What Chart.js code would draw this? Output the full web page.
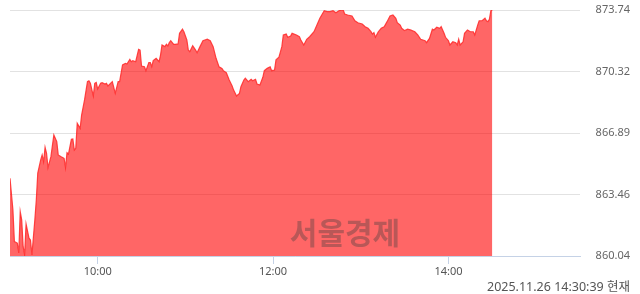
<!DOCTYPE html>
<html lang="ko">
<head>
<meta charset="utf-8">
<title>Index chart</title>
<script src="https://cdn.jsdelivr.net/npm/chart.js@4/dist/chart.umd.min.js"></script>
<style>
  html, body { margin: 0; padding: 0; background: #fff; }
  #chart { display: block; }
</style>
</head>
<body>
<canvas id="chart" width="640" height="294"></canvas>
<script>
// minutes since 09:00 open
const minutes = [0,2,3,5,6,7,8,9,10,11,13,14,15,17,18,19,21,22,23,24,25,26,28,30,32,33,35,37,38,39,
  40,42,43,44,45,46,48,49,51,53,54,55,57,58,59,60,62,63,65,66,67,70,71,72,74,75,77,79,80,82,
  83,84,86,88,89,90,92,93,95,96,97,98,100,102,103,104,106,107,108,109,110,112,113,115,116,118,119,121,122,123,
  125,127,128,130,132,135,137,139,141,143,145,146,148,150,152,153,155,157,158,160,161,163,165,166,168,169,171,173,174,176,
  178,179,181,182,184,186,187,189,190,192,193,196,198,199,201,203,205,208,210,212,215,217,219,221,223,225,228,229,231,234,
  236,238,241,243,245,247,248,249,250,252,254,256,258,260,262,264,265,267,268,270,272,274,277,279,281,284,285,287,289,290,
  292,294,295,297,298,300,301,303,305,306,307,308,310,311,313,315,317,318,320,321,323,325,326,327,328,329,330];

const values = [864.37,862.60,860.84,860.76,860.21,862.51,862.05,860.56,860.10,861.82,861.04,860.93,860.10,862.05,863.16,864.66,865.39,865.67,865.29,866.09,865.76,864.96,865.57,866.78,866.41,865.67,865.57,865.48,864.96,865.79,
  865.72,866.54,866.56,865.94,866.04,867.43,867.15,867.89,868.73,869.75,869.80,869.66,868.95,869.66,869.71,869.34,869.66,869.69,869.62,869.66,869.51,869.75,869.43,869.10,869.75,869.75,870.68,870.77,870.73,870.99,
  870.86,870.92,870.86,871.55,871.51,870.62,870.58,870.36,870.81,870.81,870.58,870.92,871.05,870.86,871.23,871.79,871.70,871.83,871.74,871.92,872.03,871.83,871.83,871.85,872.44,872.67,872.53,872.07,871.51,871.42,
  871.75,871.51,871.36,871.70,872.03,872.11,872.03,871.70,871.05,870.58,870.49,870.36,870.25,869.84,869.51,869.28,868.95,869.10,869.47,869.84,869.94,869.75,869.88,869.80,869.88,869.62,869.56,869.99,870.36,870.49,
  870.58,870.36,870.40,870.96,871.11,871.70,872.35,872.40,872.22,872.29,872.44,872.35,872.25,872.07,871.79,872.11,872.25,872.53,872.90,873.28,873.70,873.65,873.65,873.70,873.59,873.70,873.74,873.52,873.46,873.41,
  873.14,873.03,872.96,872.81,872.72,872.53,872.40,872.48,872.22,872.53,872.72,872.81,873.09,873.41,873.46,873.28,873.03,872.90,872.72,872.59,872.67,872.63,872.53,872.35,872.11,872.03,871.92,872.16,872.67,872.63,
  872.78,872.72,872.81,872.44,872.22,872.03,871.79,871.97,871.92,871.79,872.11,871.79,871.97,872.44,872.63,872.53,872.53,872.35,872.90,873.14,873.14,873.28,873.14,873.09,873.22,873.70,873.74];

const yTicks      = [860.04, 863.46, 866.89, 870.32, 873.74];
const yTickLabels = ['860.04', '863.46', '866.89', '870.32', '873.74'];
const xTicks      = [60, 180, 300];          // 10:00, 12:00, 14:00
const xTickLabels = ['10:00', '12:00', '14:00'];
const sessionEnd  = 390;                     // 15:30

const watermark = '서울경제';
const stamp     = '2025.11.26 14:30:39 현재';

const FONT = '"Noto Sans", "Noto Sans CJK KR", sans-serif';

// watermark + timestamp are drawn straight on the canvas after the chart
const overlayPlugin = {
  id: 'overlay',
  afterDatasetsDraw(chart) {
    const ctx = chart.ctx;
    ctx.save();
    ctx.font = 'bold 30px "Noto Sans CJK KR", sans-serif';
    ctx.fillStyle = 'rgba(60,60,60,0.36)';
    ctx.textAlign = 'center';
    ctx.textBaseline = 'middle';
    ctx.fillText(watermark, 345, 233);
    ctx.restore();
  },
  afterDraw(chart) {
    const ctx = chart.ctx;
    ctx.save();
    ctx.font = '12.5px ' + FONT;
    ctx.fillStyle = '#555';
    ctx.textAlign = 'right';
    ctx.textBaseline = 'middle';
    ctx.fillText(stamp, 630, 287);
    ctx.restore();
  }
};

new Chart(document.getElementById('chart'), {
  type: 'line',
  data: {
    datasets: [{
      data: minutes.map((m, i) => ({ x: m, y: values[i] })),
      borderColor: 'rgba(255,40,40,0.85)',
      borderWidth: 1.2,
      backgroundColor: 'rgba(255,0,0,0.6)',
      fill: 'start',
      pointRadius: 0,
      tension: 0
    }]
  },
  options: {
    responsive: false,
    animation: false,
    devicePixelRatio: 1,
    layout: { padding: { left: 10, top: 10, right: 10, bottom: 0 } },
    plugins: { legend: { display: false }, tooltip: { enabled: false } },
    scales: {
      x: {
        type: 'linear',
        min: 0,
        max: sessionEnd,
        afterBuildTicks: s => { s.ticks = xTicks.map(v => ({ value: v })); },
        afterFit: s => { s.height = 38; },
        ticks: {
          padding: 1,
          maxRotation: 0,
          color: '#555',
          font: { family: FONT, size: 11 },
          callback: (v) => xTickLabels[xTicks.indexOf(v)] || ''
        },
        grid: { drawOnChartArea: false, drawTicks: true, tickLength: 8, color: '#c5d2e6' },
        border: { display: true, color: '#c5d2e6' }
      },
      y: {
        position: 'right',
        min: yTicks[0],
        max: yTicks[yTicks.length - 1],
        afterBuildTicks: s => { s.ticks = yTicks.map(v => ({ value: v })); },
        afterFit: s => { s.width = 50; },
        ticks: {
          crossAlign: 'far',
          padding: 0,
          color: '#666',
          font: { family: FONT, size: 11 },
          callback: (v) => yTickLabels[yTicks.indexOf(v)] || v.toFixed(2)
        },
        grid: { color: '#e2e2e2', drawTicks: false },
        border: { display: false }
      }
    }
  },
  plugins: [overlayPlugin]
});
</script>
</body>
</html>
